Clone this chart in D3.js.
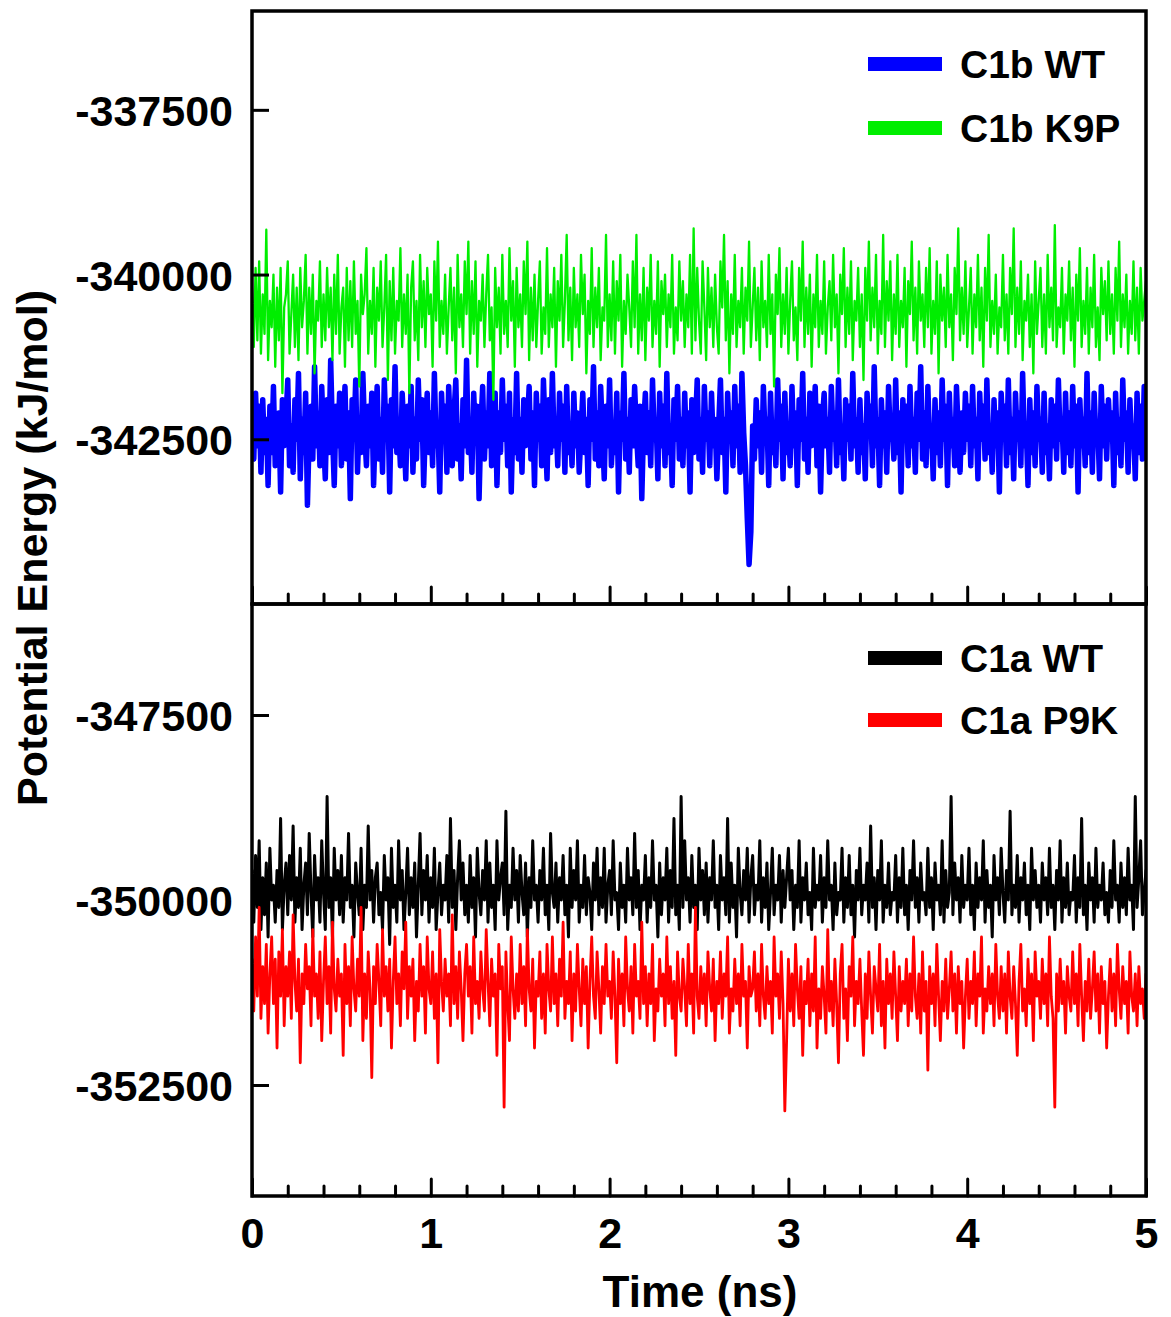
<!DOCTYPE html>
<html>
<head>
<meta charset="utf-8">
<script src="https://cdn.jsdelivr.net/npm/d3@7"></script>
<style>
  body { margin: 0; background: #fff; }
  svg { display: block; }
  text { font-family: "Liberation Sans", Arial, sans-serif; font-weight: bold; fill: #000; }
</style>
</head>
<body>
<svg width="1171" height="1317"></svg>
<script>
// trajectories are sampled evenly over 0..5 ns
const timeEnd = 5;
const xTicks = [0, 1, 2, 3, 4, 5];
const xMinorTicks = [0.2, 0.4, 0.6, 0.8, 1.2, 1.4, 1.6, 1.8, 2.2, 2.4, 2.6, 2.8, 3.2, 3.4, 3.6, 3.8, 4.2, 4.4, 4.6, 4.8];
const topTicks = [-337500, -340000, -342500];
const bottomTicks = [-347500, -350000, -352500];
const topDomain = [-345000, -336000];
const bottomDomain = [-354000, -346000];

const topNames = ['C1b WT', 'C1b K9P'];
const bottomNames = ['C1a WT', 'C1a P9K'];

// C1b WT (kJ/mol)
const c1bWT = [
  -342100,-342800,-341800,-342600,-342000,-343000,-341900,-342700,-342200,-343200,-342000,-342700,-341700,-342900,-342300,-342100,-343300,-341900,-342600,-342200,
  -341600,-342900,-342300,-343000,-341900,-342500,-341500,-343100,-342200,-342700,-341800,-343500,-342400,-342000,-342800,-341400,-342600,-342100,-342900,-341700,
  -342500,-343100,-341900,-342700,-341300,-342400,-343200,-342000,-342600,-341800,-342900,-342300,-341700,-342800,-342100,-343400,-341900,-342500,-341600,-343000,
  -342200,-342700,-341500,-342400,-342900,-342000,-342600,-341800,-343200,-342300,-341700,-342800,-342200,-343000,-341600,-342500,-342000,-343300,-341900,-342600,
  -341400,-342700,-342300,-342900,-341800,-342400,-343100,-342000,-342600,-341700,-343000,-342200,-342800,-341600,-342500,-341900,-343200,-342300,-341800,-342700,
  -342100,-342900,-341500,-342600,-342300,-343300,-341800,-342500,-342000,-343000,-341700,-342400,-342900,-342100,-341600,-342800,-342300,-343100,-341900,-342600,
  -341300,-342700,-342200,-343000,-341800,-342500,-342000,-343400,-342300,-341700,-342800,-342100,-342600,-341500,-342900,-342400,-341800,-343200,-342100,-342700,
  -341600,-342500,-342000,-342900,-341800,-343300,-342200,-342700,-341500,-342800,-342200,-343000,-341900,-342600,-342300,-341700,-342800,-342100,-343200,-341800,
  -342500,-342000,-342900,-341600,-342400,-343100,-341900,-342700,-341500,-342600,-342200,-342900,-341800,-342500,-342000,-343000,-341700,-342700,-342300,-342900,
  -341800,-342600,-342100,-343000,-342400,-341800,-342700,-342200,-343200,-341900,-342500,-341400,-342800,-342100,-342900,-341700,-342400,-343100,-342000,-342600,
  -341600,-342900,-342300,-342700,-341800,-343300,-342100,-342500,-341500,-342800,-342200,-343000,-341900,-342600,-341700,-342400,-342900,-342000,-343400,-342300,
  -341800,-342700,-342100,-342900,-341600,-342500,-342200,-343100,-341800,-342600,-342000,-342900,-341500,-342700,-342300,-343200,-341900,-342500,-341700,-342800,
  -342200,-342900,-341800,-342600,-342100,-343300,-341900,-342700,-342300,-341600,-342800,-342200,-343000,-341700,-342500,-342100,-342900,-341800,-342600,-342200,
  -343100,-342300,-341600,-342700,-342200,-343300,-341800,-342500,-342100,-342900,-341700,-342600,-342000,-343000,-341500,-342400,-342900,-343700,-344400,-343900,
  -342300,-342800,-341900,-342600,-342100,-343000,-341700,-342500,-342200,-343200,-341800,-342700,-342300,-342900,-341600,-342500,-342000,-343100,-341800,-342700,
  -342300,-342900,-341700,-342600,-342100,-343200,-341900,-342500,-341500,-342800,-342200,-343000,-341800,-342600,-342300,-341700,-342900,-342000,-343300,-342200,
  -341800,-342600,-342200,-343000,-341700,-342500,-342100,-342900,-341600,-342700,-342300,-343100,-341900,-342500,-342000,-342800,-341500,-342600,-342200,-343000,
  -341900,-342700,-342300,-343100,-341800,-342400,-342000,-342900,-341400,-342600,-342200,-343200,-341900,-342600,-342100,-343000,-341700,-342500,-342300,-342800,
  -341600,-342700,-342100,-343300,-341900,-342500,-342000,-342900,-341700,-342600,-342200,-343000,-341800,-342500,-341400,-342800,-342100,-342900,-341700,-342600,
  -342300,-343100,-341900,-342700,-342100,-342900,-341600,-342500,-342000,-343200,-341800,-342600,-342200,-342900,-341700,-342400,-343000,-342100,-342700,-341800,
  -342500,-342000,-342900,-341700,-342600,-342200,-343100,-341800,-342500,-342000,-342800,-341600,-342700,-342300,-343000,-341900,-342600,-342100,-343300,-341800,
  -342400,-342000,-342900,-341600,-342700,-342200,-343100,-341800,-342500,-342100,-342900,-341500,-342600,-342300,-343200,-341900,-342700,-342100,-342900,-341700,
  -342500,-342200,-343000,-341800,-342700,-342300,-343100,-341900,-342600,-342000,-342800,-341600,-342500,-342200,-343000,-341800,-342700,-342100,-342900,-341700,
  -342600,-342000,-343300,-341900,-342600,-342200,-342900,-341500,-342700,-342100,-343000,-341800,-342500,-342300,-343100,-341700,-342600,-342000,-342800,-341900,
  -342500,-342100,-343200,-341800,-342700,-342200,-342900,-341600,-342500,-342100,-343000,-341900,-342600,-342300,-343100,-341800,-342700,-342000,-342800,-341700,
  -342400
];

// C1b K9P (kJ/mol)
const c1bK9P = [
  -340200,-341100,-339900,-341000,-339800,-341200,-340300,-340900,-339320,-341300,-340400,-340800,-340000,-341400,-340200,-341000,-339900,-341800,-340500,-340300,
  -339800,-341200,-340600,-340000,-341100,-340200,-341300,-339900,-340800,-340400,-339700,-341200,-340200,-340900,-340000,-341500,-340400,-340700,-339800,-341100,
  -340300,-341000,-339900,-340800,-340200,-341300,-340000,-340900,-339700,-341200,-340500,-340200,-341400,-339900,-341000,-340100,-341100,-339800,-340900,-340400,
  -341700,-340000,-340600,-340300,-339600,-341200,-340400,-340900,-339900,-341400,-340200,-340700,-339800,-341100,-340500,-339700,-341600,-340100,-341000,-339900,
  -341200,-340400,-340700,-339600,-341100,-340300,-340900,-340000,-341800,-340200,-339800,-341000,-340400,-341300,-339700,-340800,-340100,-341100,-339900,-340600,
  -340300,-341400,-339800,-340700,-339500,-341100,-340400,-340900,-340000,-341200,-340500,-339900,-341000,-340200,-341500,-339700,-340800,-340300,-341100,-339800,
  -340600,-339500,-341200,-340100,-340900,-339800,-341400,-340400,-340700,-340000,-341100,-340300,-339700,-341000,-340500,-341900,-339900,-340800,-340200,-341200,
  -339700,-340900,-340400,-341100,-339600,-340700,-340100,-341400,-339900,-340800,-340300,-341100,-339800,-340600,-339500,-341300,-340200,-341000,-340000,-341100,
  -340400,-339800,-341200,-340500,-340900,-339600,-341100,-340300,-340800,-339900,-341400,-340100,-340700,-339700,-341100,-340400,-339400,-341000,-340200,-341300,
  -339900,-340800,-340300,-341100,-339700,-340600,-340000,-341500,-340400,-340900,-339600,-341100,-340200,-340800,-339900,-341300,-340500,-340700,-339400,-341100,
  -340300,-341000,-339800,-341200,-340100,-340700,-339700,-341400,-340400,-340900,-340000,-340500,-341100,-339800,-340800,-339400,-341200,-340300,-341000,-339900,
  -341300,-340200,-340700,-339700,-341100,-340400,-340900,-339800,-341400,-340100,-340600,-340000,-341100,-340300,-340800,-339700,-341200,-340500,-341000,-339800,
  -340700,-340100,-341100,-340300,-340800,-339700,-341200,-339300,-341000,-339900,-340700,-341200,-339800,-340500,-341300,-339900,-340800,-340200,-341100,-340000,
  -340800,-341200,-339800,-340500,-339400,-341000,-340100,-341500,-340300,-340900,-339700,-341100,-340400,-340800,-339900,-341200,-340200,-340700,-339500,-341100,
  -340500,-339900,-341000,-340200,-341300,-339800,-340800,-340400,-341100,-339700,-340900,-340300,-341700,-340000,-340600,-339600,-341100,-340300,-340900,-339900,
  -341200,-340400,-339800,-341000,-340500,-341300,-339900,-340700,-339500,-341100,-340200,-340900,-340000,-341400,-340300,-340800,-339700,-341100,-340400,-340900,
  -339800,-341200,-340500,-340100,-341000,-339700,-340800,-340300,-341500,-340000,-340600,-339600,-341100,-340200,-340900,-339800,-341300,-340400,-340700,-339900,
  -341100,-340300,-341600,-339900,-340700,-339500,-341000,-340200,-340800,-339700,-341200,-340400,-340900,-339400,-341100,-340100,-340700,-339800,-341300,-340300,
  -340900,-339700,-341100,-340400,-340800,-339900,-341400,-340100,-340600,-339500,-341000,-340200,-341200,-339800,-340700,-340300,-341100,-339900,-340800,-339600,
  -341200,-340400,-340900,-339800,-341500,-340000,-340700,-340200,-341100,-339700,-340800,-340300,-341300,-339900,-340600,-339300,-341000,-340200,-340900,-339800,
  -341100,-340500,-339900,-341200,-340300,-340800,-339700,-341000,-340200,-341400,-339900,-340700,-339400,-341100,-340400,-340900,-340000,-341200,-340500,-340800,
  -339700,-341000,-340300,-341200,-339900,-340600,-339300,-341100,-340200,-340900,-339800,-341300,-340400,-340700,-340000,-341100,-340300,-341500,-339800,-340900,
  -340400,-339900,-341100,-340300,-341200,-339700,-340800,-340200,-341000,-339250,-341100,-340500,-340800,-339900,-341200,-340300,-340700,-339800,-341000,-340200,
  -341400,-340000,-340700,-339600,-341100,-340400,-340900,-339900,-341200,-340200,-340800,-339700,-341100,-340500,-341300,-339900,-340600,-340100,-341000,-339800,
  -340900,-340300,-341200,-339900,-340700,-339500,-341100,-340300,-340800,-340000,-341200,-340400,-340900,-339800,-341000,-340200,-341200,-339900,-340700,-340400,
  -340100
];

// C1a WT (kJ/mol)
const c1aWT = [
  -349600,-350300,-349400,-350100,-349200,-350400,-349700,-350200,-349500,-350500,-349300,-350000,-349800,-350300,-349600,-350100,-348900,-350400,-349800,-349500,
  -350200,-349400,-350000,-349000,-350300,-349700,-350100,-349300,-350400,-349800,-349500,-350200,-349100,-349900,-350500,-349400,-350000,-349700,-350300,-349200,
  -349900,-350400,-348600,-350100,-349700,-350500,-349300,-350000,-349600,-350200,-349400,-350300,-349700,-350000,-349100,-350100,-349800,-350500,-349500,-349900,
  -350200,-349300,-350400,-349800,-350100,-349000,-350000,-349600,-350300,-349700,-349500,-350200,-349900,-350400,-349400,-350000,-349700,-350600,-349300,-350100,
  -349800,-350300,-349200,-350000,-349600,-350400,-349900,-349300,-350200,-349700,-350100,-349500,-350500,-349800,-349100,-350200,-349600,-350000,-349400,-350300,
  -349700,-350100,-349300,-350400,-349900,-349500,-350200,-349800,-350000,-349400,-350300,-348900,-350100,-349600,-350400,-349700,-349200,-350000,-349500,-350200,
  -349800,-350300,-349400,-350100,-349700,-350500,-349300,-349900,-350200,-349600,-350000,-349200,-350300,-349500,-350100,-349800,-350400,-349200,-350000,-349700,
  -349500,-350200,-348800,-350400,-349800,-350100,-349300,-350000,-349600,-350300,-349400,-349900,-350200,-349500,-350500,-349700,-350100,-349200,-350000,-349800,
  -350300,-349600,-350000,-349300,-350200,-349800,-350400,-349100,-349900,-350100,-349500,-350300,-349700,-350000,-349400,-350200,-349800,-350500,-349300,-350100,
  -349600,-350000,-349200,-350300,-349800,-350100,-349400,-350200,-349700,-349900,-350400,-349500,-350000,-349300,-350200,-349700,-350100,-349300,-350300,-349800,
  -349600,-350200,-349200,-350000,-349900,-350400,-349500,-350100,-349800,-350300,-349300,-350000,-349700,-350200,-349100,-350100,-349600,-350400,-349800,-350000,
  -349400,-350300,-349700,-350100,-349200,-350000,-349800,-350500,-349500,-350200,-349700,-350000,-349300,-350300,-349600,-350100,-348900,-350200,-349800,-350400,
  -348600,-350100,-349200,-350000,-349700,-350300,-349400,-350100,-349800,-350400,-349300,-350000,-349600,-350200,-349500,-350300,-349700,-350000,-349200,-350100,
  -349800,-350400,-349400,-350000,-349700,-350200,-348900,-350300,-349500,-350100,-349800,-350500,-349300,-349900,-350200,-349600,-350000,-349300,-350300,-349700,
  -349400,-350200,-349800,-350000,-349200,-350300,-349700,-350100,-349500,-350400,-349900,-349300,-350200,-349800,-350000,-349400,-350300,-349600,-350100,-349700,
  -349300,-350000,-349600,-350400,-349800,-350100,-349200,-350300,-349700,-350000,-349500,-350200,-349900,-350400,-349300,-350100,-349800,-350000,-349400,-350300,
  -349700,-350100,-349200,-350000,-349800,-350400,-349500,-350200,-349900,-350000,-349300,-350300,-349700,-350100,-349400,-350200,-349800,-350500,-349600,-350000,
  -349300,-350200,-349800,-350000,-349500,-350300,-349000,-350100,-349700,-350400,-349600,-350000,-349200,-350300,-349800,-350100,-349500,-350200,-349900,-350000,
  -349400,-350300,-349700,-350100,-349300,-350200,-349800,-350400,-349600,-350000,-349200,-350100,-349700,-350300,-349500,-350000,-349900,-350200,-349300,-350100,
  -349700,-350400,-349500,-350000,-349800,-350200,-349200,-350300,-349600,-350100,-349900,-348600,-350200,-349500,-350000,-349700,-350300,-349400,-350100,-349800,
  -350000,-349300,-350200,-349800,-350400,-349500,-350100,-349700,-350000,-349200,-350300,-349600,-350100,-349800,-350500,-349400,-350000,-349700,-350200,-349300,
  -349900,-350300,-349600,-350000,-348800,-350200,-349800,-350100,-349400,-350300,-349700,-350000,-349500,-350200,-349800,-350400,-349300,-350000,-349600,-350100,
  -349800,-350300,-349500,-350000,-349700,-350200,-349300,-350100,-349800,-350400,-349600,-350000,-349200,-350300,-349700,-350100,-349500,-350200,-349900,-350000,
  -349400,-350300,-349700,-350100,-348900,-350200,-349800,-350400,-349500,-350000,-349700,-350300,-349300,-350100,-349800,-350000,-349500,-350200,-349900,-350300,
  -349600,-350100,-349200,-350000,-349800,-350300,-349500,-350100,-349700,-350200,-349300,-350000,-349800,-350400,-348600,-350100,-349700,-349200,-350200,-349900,
  -349600
];

// C1a P9K (kJ/mol)
const c1aP9K = [
  -350800,-351500,-350500,-351300,-350100,-351600,-350900,-351400,-350600,-351800,-351000,-350500,-351400,-350800,-352000,-350700,-351300,-350400,-351700,-350900,
  -351300,-350700,-351600,-350200,-351100,-351500,-350800,-352200,-351000,-351400,-350600,-351200,-350900,-351700,-350400,-351300,-351000,-351600,-350700,-351900,
  -351100,-350500,-351400,-350900,-351800,-350300,-351200,-351500,-350800,-351300,-351000,-352100,-350600,-351400,-350900,-351700,-350500,-351200,-351500,-350800,
  -351300,-350100,-351900,-351000,-351600,-350700,-351200,-352400,-350900,-351400,-350600,-351100,-351700,-350400,-351300,-350900,-351500,-350800,-352000,-351100,
  -350500,-351400,-351000,-351700,-350700,-351200,-350300,-351600,-350900,-351300,-350800,-351900,-351100,-351500,-350600,-351300,-350900,-351800,-350500,-351200,
  -351400,-350700,-351600,-351000,-352200,-350400,-351100,-351500,-350800,-351300,-351000,-351700,-350200,-351400,-350900,-351600,-350700,-351200,-351900,-351000,
  -350600,-351300,-350900,-351800,-350500,-351400,-351100,-351600,-350700,-351200,-351500,-350400,-351100,-351700,-350800,-351300,-351000,-352100,-350600,-351200,
  -350900,-352800,-350700,-351400,-351900,-350500,-351200,-351600,-351000,-351500,-350600,-351400,-350900,-351700,-350400,-351200,-351500,-350800,-352000,-351100,
  -351300,-350700,-351600,-351000,-351800,-350600,-351200,-351500,-350500,-351400,-351000,-351700,-350800,-351300,-350300,-351600,-351100,-351400,-350700,-351900,
  -351000,-351500,-350600,-351200,-351700,-350800,-351400,-350900,-352000,-351100,-350500,-351300,-351600,-350700,-351200,-351800,-350900,-351400,-350600,-351300,
  -351100,-351600,-350700,-351300,-352200,-350800,-351400,-351000,-351700,-350500,-351200,-351500,-350900,-351800,-350600,-351300,-351100,-351600,-350300,-351400,
  -350900,-351700,-351000,-351400,-350600,-351900,-351200,-351500,-350800,-351300,-351000,-351700,-350500,-351400,-350900,-351600,-351100,-352100,-350700,-351300,
  -351500,-350800,-351200,-351700,-350600,-351400,-351000,-351800,-350100,-351300,-351600,-350900,-351400,-351000,-351700,-350700,-351200,-351500,-350800,-351900,
  -351100,-351400,-350700,-351600,-351000,-351300,-350500,-351800,-351200,-351500,-350800,-351400,-351000,-351700,-350600,-351300,-351100,-352000,-350900,-351300,
  -351200,-350700,-351500,-351000,-351700,-350600,-351300,-351600,-350900,-351400,-351100,-351800,-350500,-351300,-351000,-351600,-350700,-351400,-352850,-351900,
  -350800,-351500,-351000,-351700,-350600,-351200,-351600,-350900,-352100,-351100,-351400,-350800,-351700,-351000,-351500,-350500,-352000,-351200,-351600,-350900,
  -351300,-351800,-350400,-351500,-351100,-351700,-350800,-351400,-352200,-351000,-350600,-351600,-351200,-351900,-350900,-351300,-350500,-351700,-351100,-351400,
  -350800,-351500,-352100,-351000,-351600,-350700,-351300,-351800,-350900,-351200,-351500,-350600,-351700,-351100,-352000,-350800,-351400,-351000,-351600,-350700,
  -351300,-351900,-350900,-351500,-351100,-351400,-350800,-351700,-351000,-351500,-350500,-351300,-351600,-351000,-351800,-350700,-351500,-351100,-352300,-350900,
  -351400,-351000,-351700,-350600,-351300,-351900,-351100,-351500,-350800,-351600,-351200,-350700,-351500,-351000,-351800,-350900,-351400,-351100,-352000,-351300,
  -350800,-351600,-351100,-351400,-350700,-351700,-351000,-351300,-350500,-351800,-351200,-351500,-350900,-351400,-351000,-351700,-350600,-351300,-351600,-350900,
  -351500,-351000,-351800,-350700,-351300,-351600,-350900,-351400,-352100,-351100,-350600,-351500,-351200,-351700,-350800,-351400,-351000,-351900,-350700,-351300,
  -351100,-351600,-350800,-351400,-351000,-351700,-350500,-351300,-351600,-352800,-351000,-351500,-350800,-351400,-351100,-351800,-350900,-351300,-351500,-350700,
  -351400,-351000,-351700,-350600,-351300,-351900,-351100,-351500,-350800,-351600,-351200,-350700,-351500,-351000,-351800,-350900,-351400,-351100,-352000,-351300,
  -350800,-351500,-351000,-351700,-350600,-351200,-351600,-350900,-351400,-351100,-351800,-350700,-351300,-351500,-351000,-351700,-350900,-351400,-351200,-351600,
  -351000
];

function createChart() {
  const left = 252;
  const right = 1146;
  const top = 11;
  const mid = 604;
  const bottom = 1196;

  const svg = d3.select('svg');

  const xScale = d3.scaleLinear()
      .domain([0, timeEnd])
      .range([left, right]);

  const panels = [
    {
      id: 'top', y0: top, y1: mid, domain: topDomain, ticks: topTicks,
      series: [
        {name: topNames[0], values: c1bWT, color: '#0000ff', width: 5.5},
        {name: topNames[1], values: c1bK9P, color: '#00ee00', width: 2.3},
      ],
      legendY: [64, 128],
      showLabels: false,
    },
    {
      id: 'bottom', y0: mid, y1: bottom, domain: bottomDomain, ticks: bottomTicks,
      series: [
        {name: bottomNames[0], values: c1aWT, color: '#000000', width: 3},
        {name: bottomNames[1], values: c1aP9K, color: '#ff0000', width: 2.8},
      ],
      legendY: [658, 720],
      showLabels: true,
    },
  ];

  panels.forEach(p => {
    const yScale = d3.scaleLinear()
        .domain(p.domain)
        .range([p.y1, p.y0]);

    svg.append('clipPath')
        .attr('id', `clip-${p.id}`)
      .append('rect')
        .attr('x', left)
        .attr('y', p.y0)
        .attr('width', right - left)
        .attr('height', p.y1 - p.y0);

    const plot = svg.append('g')
        .attr('clip-path', `url(#clip-${p.id})`);

    p.series.forEach(s => {
      const n = s.values.length - 1;
      const line = d3.line()
          .x((d, i) => xScale(i / n * timeEnd))
          .y(d => yScale(d));
      plot.append('path')
          .attr('d', line(s.values))
          .attr('fill', 'none')
          .attr('stroke', s.color)
          .attr('stroke-width', s.width)
          .attr('stroke-linejoin', 'round')
          .attr('stroke-linecap', 'round');
    });

    // y axis, ticks pointing inward
    const yAxis = d3.axisLeft(yScale)
        .tickValues(p.ticks)
        .tickSize(-17)
        .tickPadding(19)
        .tickFormat(d => String(d));
    const yG = svg.append('g')
        .attr('transform', `translate(${left}, 0)`)
        .call(yAxis);
    yG.select('.domain').remove();
    yG.selectAll('line').attr('stroke-width', 3);
    yG.selectAll('text')
        .attr('font-size', 43)
        .attr('dy', '0.36em');

    // x axis at the bottom of the panel
    const xMinor = d3.axisBottom(xScale)
        .tickValues(xMinorTicks)
        .tickSize(-10)
        .tickFormat('');
    const xMinorG = svg.append('g')
        .attr('transform', `translate(0, ${p.y1})`)
        .call(xMinor);
    xMinorG.select('.domain').remove();
    xMinorG.selectAll('line')
        .attr('stroke-width', 3)
        .attr('stroke-linecap', 'round');

    const xAxis = d3.axisBottom(xScale)
        .tickValues(xTicks)
        .tickSize(-17)
        .tickPadding(21)
        .tickFormat(p.showLabels ? d3.format('d') : '');
    const xG = svg.append('g')
        .attr('transform', `translate(0, ${p.y1})`)
        .call(xAxis);
    xG.select('.domain').remove();
    xG.selectAll('line')
        .attr('stroke-width', 3)
        .attr('stroke-linecap', 'round');
    xG.selectAll('text')
        .attr('font-size', 43)
        .attr('dy', '0.71em');

    // frame
    svg.append('rect')
        .attr('x', left)
        .attr('y', p.y0)
        .attr('width', right - left)
        .attr('height', p.y1 - p.y0)
        .attr('fill', 'none')
        .attr('stroke', '#000')
        .attr('stroke-width', 3.5);

    // legend
    const legend = svg.append('g').attr('class', 'legend');
    p.series.forEach((s, i) => {
      legend.append('line')
          .attr('x1', 868)
          .attr('x2', 942)
          .attr('y1', p.legendY[i])
          .attr('y2', p.legendY[i])
          .attr('stroke', s.color)
          .attr('stroke-width', 14);
      legend.append('text')
          .attr('x', 960)
          .attr('y', p.legendY[i])
          .attr('dy', '0.36em')
          .attr('font-size', 39)
          .text(s.name);
    });
  });

  svg.append('text')
      .attr('transform', `translate(47, 548) rotate(-90)`)
      .attr('text-anchor', 'middle')
      .attr('font-size', 43)
      .text('Potential Energy (kJ/mol)');

  svg.append('text')
      .attr('x', 700)
      .attr('y', 1307)
      .attr('text-anchor', 'middle')
      .attr('font-size', 44)
      .text('Time (ns)');
}

createChart();
</script>
</body>
</html>
